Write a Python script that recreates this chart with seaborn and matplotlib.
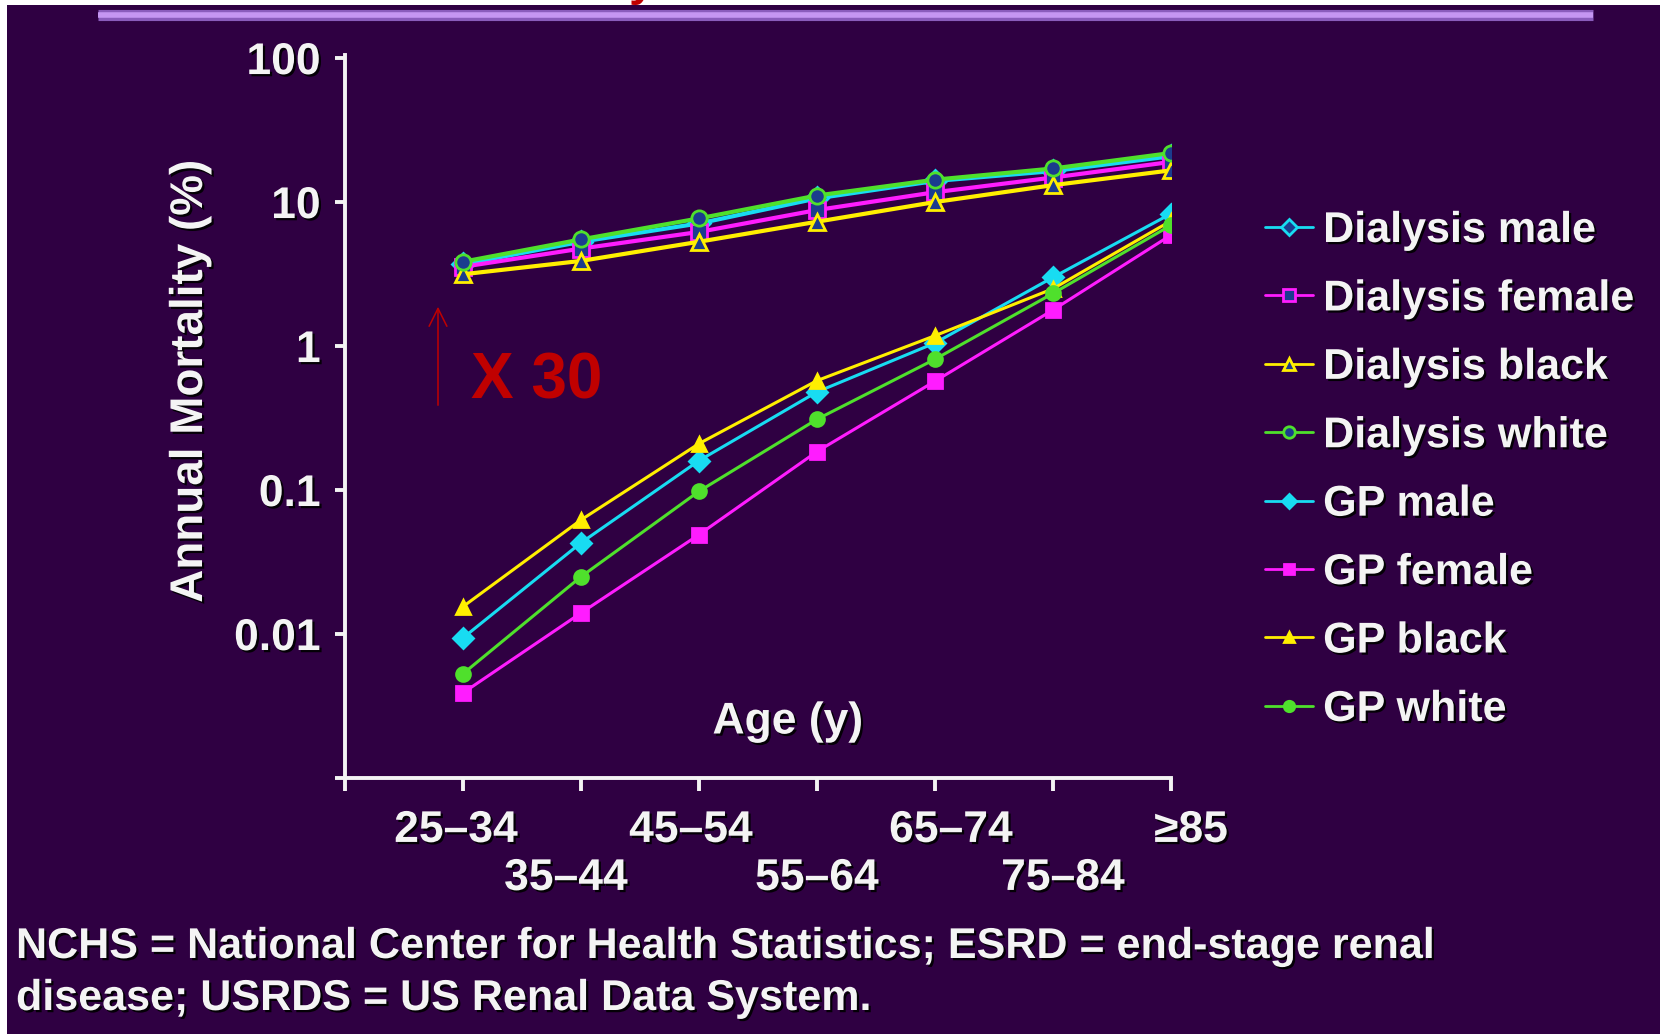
import numpy as np
import pandas as pd
import matplotlib
matplotlib.use("Agg")
import matplotlib.pyplot as plt
import matplotlib.patheffects as pe
from matplotlib.lines import Line2D
from matplotlib.patches import Rectangle
from matplotlib.transforms import ScaledTranslation
import seaborn as sns

# ---- data -------------------------------------------------------------
age_groups = ["25–34", "35–44", "45–54", "55–64", "65–74", "75–84", "≥85"]

dialysis_male = [3.7, 5.3, 7.1, 10.6, 14.0, 16.4, 20.8]
dialysis_female = [3.55, 4.75, 6.2, 8.8, 11.7, 14.8, 19.0]
dialysis_black = [3.15, 3.9, 5.3, 7.3, 10.0, 13.1, 16.6]
dialysis_white = [3.85, 5.5, 7.7, 11.1, 14.3, 17.1, 21.9]
gp_male = [0.0094, 0.043, 0.16, 0.48, 1.05, 3.0, 8.3]
gp_female = [0.0039, 0.014, 0.049, 0.185, 0.57, 1.78, 5.9]
gp_black = [0.0155, 0.062, 0.21, 0.575, 1.18, 2.5, 7.4]
gp_white = [0.0053, 0.025, 0.098, 0.31, 0.81, 2.32, 6.9]

series_names = ["Dialysis male", "Dialysis female", "Dialysis black", "Dialysis white",
                "GP male", "GP female", "GP black", "GP white"]
series_values = [dialysis_male, dialysis_female, dialysis_black, dialysis_white,
                 gp_male, gp_female, gp_black, gp_white]

y_ticks = [0.001, 0.01, 0.1, 1, 10, 100]
y_tick_labels = ["", "0.01", "0.1", "1", "10", "100"]

# ---- styling ----------------------------------------------------------
BG = "#2f0042"
WHITE = "#f4f4f4"
CYAN = "#18dcf2"
MAGENTA = "#ff1cff"
YELLOW = "#ffef00"
GREEN = "#4fe02c"
NAVY = "#1b3c8e"
RED = "#c00000"

colors = [CYAN, MAGENTA, YELLOW, GREEN, CYAN, MAGENTA, YELLOW, GREEN]
markers = ["D", "s", "^", "o", "D", "s", "^", "o"]
face = [NAVY, NAVY, NAVY, NAVY, CYAN, MAGENTA, YELLOW, GREEN]
widths = [3.0, 3.0, 3.0, 3.0, 2.2, 2.2, 2.2, 2.2]
# pixel nudges of the staggered age labels: (dx, dy)
label_nudge = [(0, 0), (-7, 0), (-15, -48), (-8, 0), (0, -48), (16, 0), (10, -48), (20, 0)]

sns.set_style("ticks")
plt.rcParams["font.family"] = ["Liberation Sans", "DejaVu Sans"]
plt.rcParams["font.weight"] = "bold"

shadow = [pe.SimplePatchShadow(offset=(1.6, -1.6), shadow_rgbFace="black", alpha=0.9),
          pe.Normal()]

df = pd.DataFrame({
    "age": np.tile(np.arange(len(age_groups)), len(series_names)),
    "mortality": np.concatenate(series_values),
    "series": np.repeat(series_names, len(age_groups)),
})

fig = plt.figure(figsize=(16.6, 10.34), dpi=100, facecolor="white")
# slide background and the lavender rule along the top
fig.add_artist(Rectangle((7 / 1660, 0), 1, 1 - 5 / 1034, transform=fig.transFigure,
                         facecolor=BG, edgecolor="none", zorder=-10))
fig.add_artist(Line2D([98 / 1660, 1593 / 1660], [1 - 15 / 1034] * 2, transform=fig.transFigure,
                      color="#8a5cbc", lw=8, solid_capstyle="butt"))
fig.add_artist(Line2D([98 / 1660, 1593 / 1660], [1 - 15 / 1034] * 2, transform=fig.transFigure,
                      color="#c596f2", lw=4, solid_capstyle="butt"))
# descender of the slide title, which sits above the visible area
fig.text(642 / 1660, 1 + 5 / 1034, "y", color=RED, fontsize=34, fontweight="bold",
         ha="center", va="baseline")

ax = fig.add_axes([345 / 1660, 1 - 778 / 1034, 826 / 1660, 723 / 1034])
ax.set_facecolor("none")

for i, name in enumerate(series_names):
    sub = df[df["series"] == name]
    sns.lineplot(data=sub, x="age", y="mortality", ax=ax, color=colors[i],
                 marker=markers[i], markersize=10 if i >= 4 else 11,
                 markerfacecolor=face[i], markeredgecolor=colors[i],
                 markeredgewidth=2.0, linewidth=widths[i], legend=False)

ax.set_yscale("log")
ax.set_ylim(0.001, 105)
ax.set_xlim(-1, 6)
ax.yaxis.set_minor_locator(matplotlib.ticker.NullLocator())
ax.set_yticks(y_ticks, y_tick_labels)
ax.set_xticks(np.arange(-1, len(age_groups)), [""] + age_groups)

for s in ["top", "right"]:
    ax.spines[s].set_visible(False)
for s in ["left", "bottom"]:
    ax.spines[s].set_color(WHITE)
    ax.spines[s].set_linewidth(2.8)

ax.tick_params(axis="y", direction="out", length=7.5, width=2.8, color=WHITE,
               labelsize=32, labelcolor=WHITE, pad=10)
ax.tick_params(axis="x", direction="out", length=9, width=2.8, color=WHITE,
               labelsize=32, labelcolor=WHITE, pad=14)
for lbl in ax.get_xticklabels() + ax.get_yticklabels():
    lbl.set_fontweight("bold")
    lbl.set_path_effects(shadow)
for lbl, (dx, dy) in zip(ax.get_xticklabels(), label_nudge):
    lbl.set_transform(lbl.get_transform()
                      + ScaledTranslation(dx / 100, dy / 100, fig.dpi_scale_trans))

ax.set_xlabel("Age (y)", fontsize=32, fontweight="bold", color=WHITE)
ax.xaxis.set_label_coords((788 - 345) / 826, (778 - 722) / 723)
ax.xaxis.label.set_va("center")
ax.xaxis.label.set_path_effects(shadow)
ax.set_ylabel("Annual Mortality (%)", fontsize=33, fontweight="bold", color=WHITE)
ax.yaxis.label.set_va("center")
ax.yaxis.set_label_coords((190 - 345) / 826, (778 - 381) / 723)
ax.yaxis.label.set_path_effects(shadow)

# legend
handles = ax.get_lines()[:len(series_names)]
leg = fig.legend(handles, series_names, loc="upper left",
                 bbox_to_anchor=(1265 / 1660, 1 - 211 / 1034), frameon=False,
                 fontsize=31, handlelength=1.12, handletextpad=0.23,
                 labelspacing=0.66, borderpad=0, borderaxespad=0, markerscale=0.75)
for t in leg.get_texts():
    t.set_color(WHITE)
    t.set_fontweight("bold")
    t.set_path_effects(shadow)
for h in leg.legend_handles:
    h.set_linewidth(2)

# x30 annotation
ax.annotate("", xy=(438 / 1660, 1 - 304 / 1034), xytext=(438 / 1660, 1 - 408 / 1034),
            xycoords="figure fraction", textcoords="figure fraction",
            arrowprops=dict(arrowstyle="->", color=RED, lw=1.1, mutation_scale=32))
fig.text(471 / 1660, 1 - 382 / 1034, "X 30", color=RED, fontsize=46, fontweight="bold",
         ha="left", va="center")

# footnote
foot_kw = dict(color=WHITE, fontsize=31, fontweight="bold", ha="left", va="center",
               path_effects=shadow)
fig.text(16 / 1660, 1 - 947 / 1034,
         "NCHS = National Center for Health Statistics; ESRD = end-stage renal", **foot_kw)
fig.text(16 / 1660, 1 - 999 / 1034, "disease; USRDS = US Renal Data System.", **foot_kw)

fig.savefig("out.png", dpi=100, facecolor="white")
